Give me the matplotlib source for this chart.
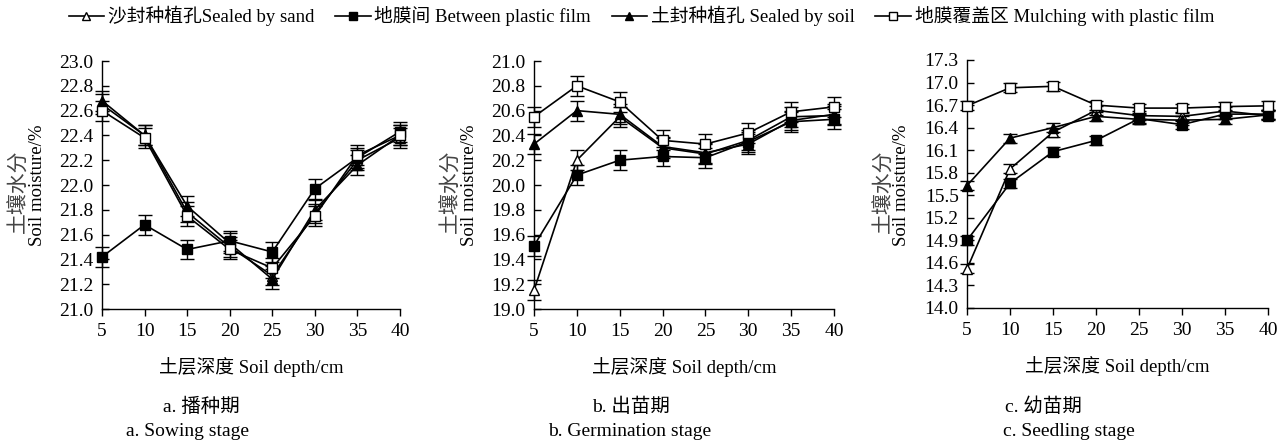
import matplotlib
matplotlib.use('Agg')
import matplotlib.pyplot as plt
from matplotlib.lines import Line2D
import numpy as np

plt.rcParams['font.family'] = ['Liberation Serif', 'Noto Sans CJK SC', 'DejaVu Sans']

depth = [5, 10, 15, 20, 25, 30, 35, 40]

series_names = ['沙封种植孔Sealed by sand', '地膜间 Between plastic film',
                '土封种植孔 Sealed by soil', '地膜覆盖区 Mulching with plastic film']

# sowing stage
sow_sand = [22.65, 22.40, 21.78, 21.50, 21.27, 21.77, 22.20, 22.38]
sow_between = [21.42, 21.68, 21.48, 21.55, 21.46, 21.97, 22.22, 22.43]
sow_soil = [22.68, 22.40, 21.83, 21.53, 21.24, 21.80, 22.16, 22.40]
sow_mulch = [22.60, 22.38, 21.75, 21.48, 21.33, 21.75, 22.24, 22.40]

# germination stage
ger_sand = [19.15, 20.20, 20.55, 20.30, 20.25, 20.36, 20.55, 20.56]
ger_between = [19.51, 20.08, 20.20, 20.23, 20.22, 20.35, 20.51, 20.53]
ger_soil = [20.33, 20.60, 20.57, 20.31, 20.26, 20.33, 20.52, 20.57]
ger_mulch = [20.55, 20.80, 20.67, 20.36, 20.33, 20.42, 20.59, 20.63]

# seedling stage
see_sand = [14.52, 15.85, 16.34, 16.63, 16.56, 16.55, 16.62, 16.56]
see_between = [14.90, 15.66, 16.08, 16.23, 16.52, 16.44, 16.58, 16.58]
see_soil = [15.63, 16.26, 16.40, 16.55, 16.51, 16.50, 16.51, 16.57]
see_mulch = [16.69, 16.93, 16.95, 16.70, 16.66, 16.66, 16.68, 16.69]

err_sow = 0.08
err_ger = 0.08
err_see = 0.06

ylims = [(21.0, 23.0), (19.0, 21.0), (14.0, 17.3)]
ysteps = [0.2, 0.2, 0.3]
cn_titles = ['a. 播种期', 'b. 出苗期', 'c. 幼苗期']
en_titles = ['a. Sowing stage', 'b. Germination stage', 'c. Seedling stage']

panels = [
    ([sow_sand, sow_between, sow_soil, sow_mulch], err_sow),
    ([ger_sand, ger_between, ger_soil, ger_mulch], err_ger),
    ([see_sand, see_between, see_soil, see_mulch], err_see),
]

styles = [
    dict(marker='^', mfc='white'),
    dict(marker='s', mfc='black'),
    dict(marker='^', mfc='black'),
    dict(marker='s', mfc='white'),
]

W, H = 1288, 446
fig = plt.figure(figsize=(W / 100, H / 100), dpi=100)

# axes boxes in pixels: left, right, top, bottom
boxes = [(102, 400, 61, 309), (534, 834, 61, 309), (967, 1268, 60, 308)]
# caption centres in pixels (chinese, english)
cap_x = [(201, 188), (631, 630), (1043, 1069)]

for i, ((series, err), (l, r, t, b)) in enumerate(zip(panels, boxes)):
    ax = fig.add_axes([l / W, 1 - b / H, (r - l) / W, (b - t) / H])
    for k, (vals, st) in enumerate(zip(series, styles)):
        ax.errorbar(depth, vals, yerr=err, color='black', lw=1.2,
                    marker=st['marker'], mfc=st['mfc'], mec='black',
                    ms=6.5, capsize=5, elinewidth=1.0, capthick=1.0,
                    zorder=3 + k, clip_on=False)
    lo, hi = ylims[i]
    ax.set_xlim(5, 40)
    ax.set_ylim(lo, hi)
    ax.set_xticks(depth)
    ax.set_yticks(np.round(np.arange(lo, hi + 1e-6, ysteps[i]), 1))
    ax.yaxis.set_major_formatter(matplotlib.ticker.FormatStrFormatter('%.1f'))
    for s in ['top', 'right']:
        ax.spines[s].set_visible(False)
    ax.spines['left'].set_linewidth(1.0)
    ax.spines['bottom'].set_linewidth(1.0)
    ax.tick_params(axis='y', direction='in', length=5, width=1.0, labelsize=14, pad=6)
    ax.tick_params(axis='x', direction='out', length=5, width=1.0, labelsize=14, pad=5)
    ax.set_xlabel('土层深度 Soil depth/cm', fontsize=13.5, labelpad=12)

    # two-line y label, chinese line a little lighter
    fig.text((l - 82) / W, 1 - 191 / H, '土壤水分', rotation=90, ha='center',
             va='center', fontsize=15, color='#444444')
    fig.text((l - 65) / W, 1 - 185 / H, 'Soil moisture/%', rotation=90, ha='center',
             va='center', fontsize=13.5)

    fig.text(cap_x[i][0] / W, 1 - 407 / H, cn_titles[i], ha='center', va='center', fontsize=14)
    fig.text(cap_x[i][1] / W, 1 - 432 / H, en_titles[i], ha='center', va='center', fontsize=14)

handles = [Line2D([], [], color='black', lw=1.2, marker=st['marker'], mfc=st['mfc'],
                  mec='black', ms=6) for st in styles]
fig.legend(handles=handles, labels=series_names, loc='center',
           bbox_to_anchor=(0.498, 1 - 16 / H), ncol=4, frameon=False,
           fontsize=13.5, handlelength=1.9, handletextpad=0.2,
           columnspacing=1.1, borderaxespad=0)

fig.savefig('out.png', dpi=100, facecolor='white')
